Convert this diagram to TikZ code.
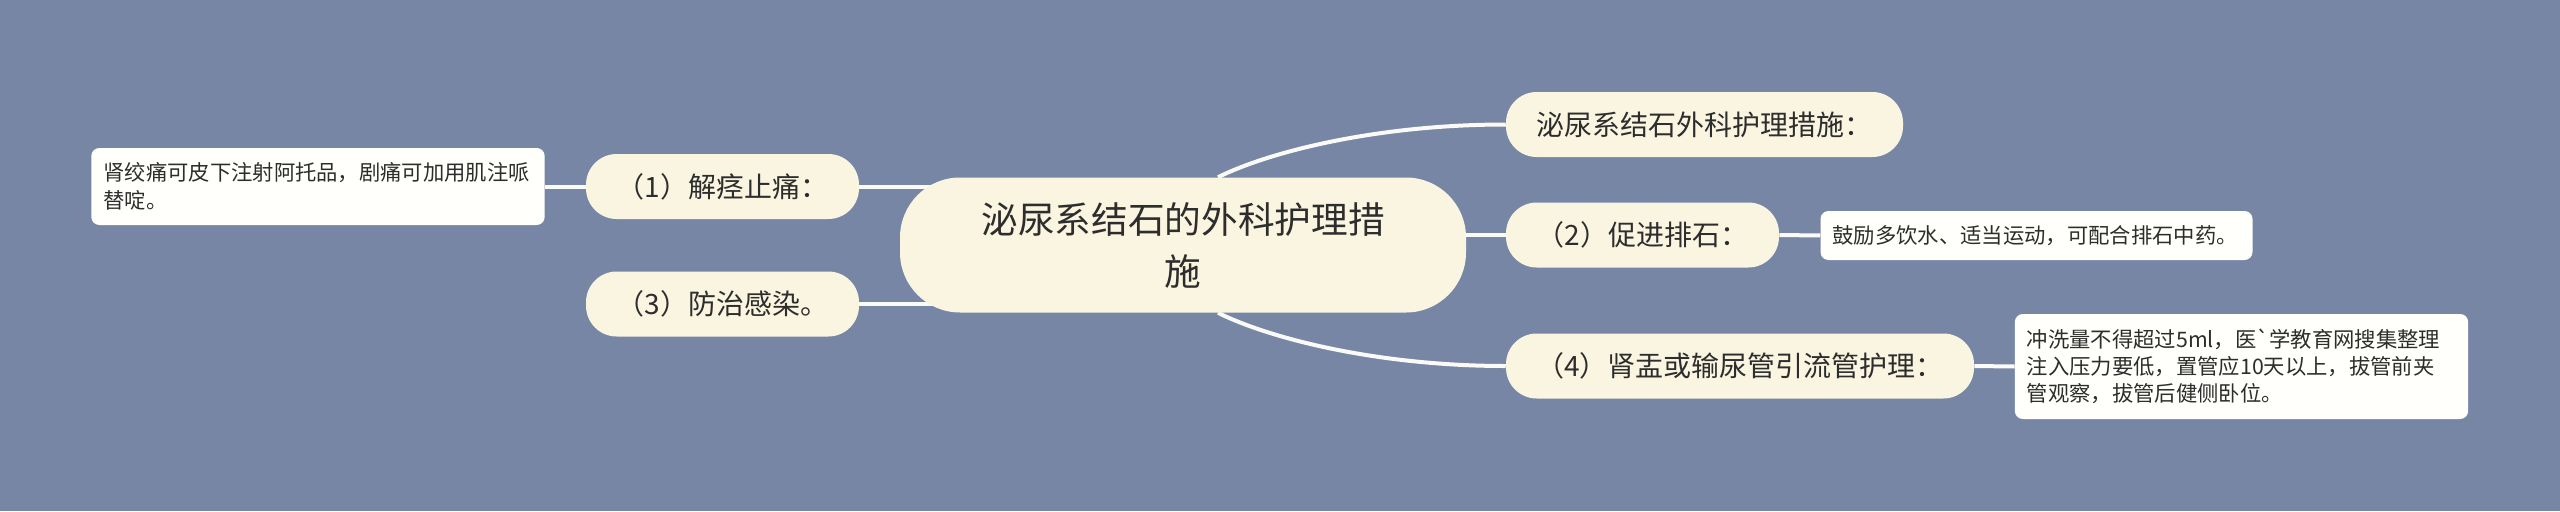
\documentclass[tikz,border=0pt]{standalone}
\usepackage{fontspec}
\setmainfont{Noto Sans CJK SC}[Ligatures=TeXOff]
\usetikzlibrary{calc,backgrounds}
\definecolor{bgblue}{RGB}{120,134,166}
\definecolor{cream}{RGB}{249,245,225}
\definecolor{leafwhite}{RGB}{255,255,251}
\definecolor{inkgray}{RGB}{45,45,45}
\definecolor{linkwhite}{RGB}{250,250,246}
\begin{document}
\begin{tikzpicture}[x=0.75pt,y=-0.75pt,
    rootbox/.style={fill=cream,rounded corners=45pt,minimum width=424.5pt,
                    minimum height=101.25pt,text width=330pt,align=center,
                    font=\fontsize{27.5}{39}\selectfont,text=inkgray},
    subbox/.style={fill=cream,rounded corners=23pt,minimum height=48.75pt,
                   font=\fontsize{21}{26}\selectfont,text=inkgray},
    leafbox/.style={fill=leafwhite,rounded corners=6pt,inner xsep=9pt,align=left,
                    font=\fontsize{16}{20.5}\selectfont,text=inkgray},
    link/.style={draw=linkwhite,line width=3pt}]

    \node[rootbox] (Root) at (1183,245) {泌尿系结石的外科护理措\\施};

             \node[subbox,minimum width=297.75pt] (Top)  at (1704.5,124.5) {泌尿系结石外科护理措施：};
             \node[subbox,minimum width=204.75pt] (Sub2) at (1642.5,235) {（2）促进排石：};
             \node[subbox,minimum width=351pt]    (Sub4) at (1740,366) {（4）肾盂或输尿管引流管护理：};
             \node[subbox,minimum width=204.75pt] (Sub1) at (722.5,186.5) {（1）解痉止痛：};
             \node[subbox,minimum width=204.75pt] (Sub3) at (722.5,304) {（3）防治感染。};

             \node[leafbox,text width=322pt,minimum height=57.75pt] (Leaf1) at (318,186.5)
                  {肾绞痛可皮下注射阿托品，剧痛可加用肌注哌\\替啶。};
             \node[leafbox,text width=306pt,minimum height=36.75pt] (Leaf2) at (2036.5,235.5)
                  {鼓励多饮水、适当运动，可配合排石中药。};
             \node[leafbox,text width=322pt,minimum height=78.75pt] (Leaf4) at (2241.5,366.5)
                  {冲洗量不得超过5ml，医\textasciigrave 学教育网搜集整理\\注入压力要低，置管应10天以上，拔管前夹\\管观察，拔管后健侧卧位。};

    \begin{scope}[on background layer]
             \fill[bgblue] (0,0) rectangle (2560,511);
             \draw[link] ($(Root.north)+(35,0)$) .. controls +(50,-25) and +(-130,0) .. (Top.west);
             \draw[link] ($(Root.south)+(35,0)$) .. controls +(50,25) and +(-130,0) .. (Sub4.west);
             \draw[link] (Sub2.west) -- (Sub2.west -| Root.center);
             \draw[link] (Sub1.east) -- (Sub1.east -| Root.center);
             \draw[link] (Sub3.east) -- (Sub3.east -| Root.center);
             \draw[link] (Leaf1.east) -- (Sub1.west);
             \draw[link] (Sub2.east) -- (Leaf2.west);
             \draw[link] (Sub4.east) -- (Leaf4.west);
    \end{scope}
    \useasboundingbox (0,0) rectangle (2560,511);
\end{tikzpicture}
\end{document}
